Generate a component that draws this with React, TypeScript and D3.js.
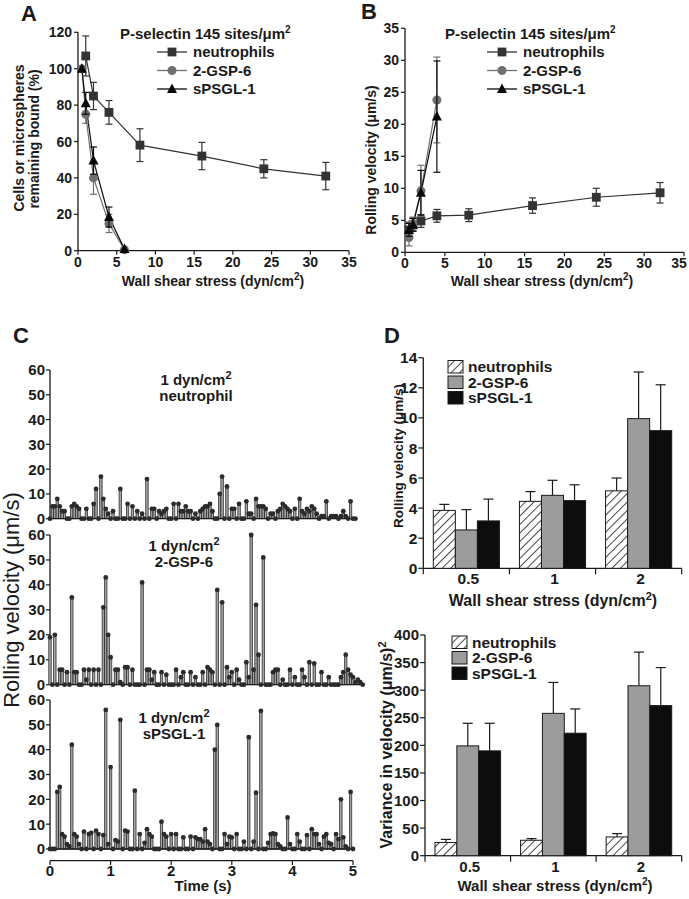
import React from 'react';
import * as d3 from 'd3';

const FONT = "'Liberation Sans', Arial, Helvetica, sans-serif";
const INK = '#1a1a1a';

// ---------- Panel A: cells / microspheres remaining bound (%)
const neuShear = [1, 2, 4, 8, 16, 24, 32];
const neuBound = [107, 85, 76, 58, 52, 45, 41];
const neuBoundErr = [11, 7.5, 6.5, 9, 7.5, 5, 7.5];
const beadShear = [0.5, 1, 2, 4, 6];
const gspBound = [100, 75, 40, 15, 0.5];
const gspBoundErr = [0, 5, 9, 5, 0];
const psglBound = [100, 81, 49.5, 18.5, 1];
const psglBoundErr = [0, 6, 7.5, 5.5, 0];

// ---------- Panel B: rolling velocity (um/s)
const neuShearB = [0.5, 1, 2, 4, 8, 16, 24, 32];
const neuVel = [3.5, 4.3, 4.9, 5.7, 5.8, 7.3, 8.6, 9.3];
const neuVelErr = [1.2, 1, 1, 1, 1, 1.2, 1.4, 1.6];
const beadShearB = [0.5, 1, 2, 4];
const gspVel = [2.3, 4.5, 9.6, 23.8];
const gspVelErr = [1.3, 1, 4, 6.7];
const psglVel = [3.5, 4.3, 9.3, 21.2];
const psglVelErr = [1, 1, 3.5, 8.7];

// ---------- Panel C: instantaneous velocity traces, one value per 0.04 s frame
const FRAME = 0.04;
const neutrophilTrace = [
  0, 5, 5, 8, 5, 3, 3, 0, 0, 5, 6, 5, 4, 0, 0, 4, 0, 0, 6, 12,
  0, 17, 8, 4, 2, 0, 3, 0, 0, 12, 0, 0, 6, 0, 5, 0, 3, 0, 2, 0,
  16, 0, 4, 4, 0, 3, 2, 3, 4, 0, 0, 6, 0, 6, 3, 3, 5, 3, 3, 0,
  2, 0, 3, 4, 5, 5, 6, 3, 0, 0, 10, 17, 0, 13, 0, 4, 4, 0, 6, 0,
  0, 7, 2, 2, 0, 8, 5, 5, 5, 4, 0, 2, 2, 0, 3, 4, 6, 5, 4, 3,
  0, 4, 0, 8, 3, 2, 4, 3, 5, 4, 2, 0, 1, 1, 7, 0, 1, 1, 1, 0,
  1, 3, 1, 0, 7, 0, 0,
];
const gspTrace = [
  19, 0, 20, 0, 6, 6, 0, 5, 0, 35, 5, 5, 0, 0, 6, 2, 6, 0, 6, 0,
  6, 0, 31, 43, 20, 11, 0, 6, 6, 1, 0, 7, 7, 0, 6, 0, 0, 0, 41, 0,
  6, 6, 2, 5, 0, 0, 5, 0, 4, 0, 0, 0, 6, 0, 3, 5, 0, 0, 5, 0,
  3, 0, 0, 5, 0, 7, 6, 5, 0, 38, 0, 33, 0, 7, 3, 5, 0, 6, 2, 0,
  0, 9, 3, 60, 6, 32, 12, 0, 51, 0, 0, 0, 5, 6, 6, 0, 2, 0, 0, 6,
  0, 3, 0, 0, 6, 3, 0, 9, 0, 8.5, 0, 0, 5, 0, 0, 3, 0, 0, 0, 0,
  3, 5, 12, 6, 4, 3, 1, 2, 1, 0,
];
const psglTrace = [
  0, 0, 0, 23, 25, 6, 5, 2, 1, 42, 6, 5, 2, 0, 7, 0, 6, 6.5, 0, 7.4,
  6, 0, 5.6, 56, 2, 33, 0, 3.6, 3, 52, 0, 7.4, 7, 0, 0, 23.5, 0, 6, 0, 2.5,
  8, 6, 5, 0, 0, 0, 11, 6, 5, 0, 6, 0, 6, 0, 0, 4.7, 0, 0, 5, 0,
  4.7, 4, 4, 3, 8, 3, 2, 0, 40, 50, 0, 0, 6, 2, 5, 4.7, 0, 6, 0, 0,
  3, 0, 45, 0, 3, 22.7, 0, 55.6, 0, 0, 2.5, 6, 6.3, 6, 2, 1, 0, 0, 12.7, 2,
  0, 0, 6, 3, 0, 0, 5.6, 0, 8, 6, 6, 2, 0, 5, 6, 2.5, 2, 0, 6, 4,
  20, 4.7, 1, 0, 23, 0,
];

// ---------- Panel D: mean rolling velocity and variance
const stressCats = ['0.5', '1', '2'];
const groupNames = ['neutrophils', '2-GSP-6', 'sPSGL-1'];
const neuMeanVel = [3.85, 4.45, 5.15];
const neuMeanVelErr = [0.4, 0.65, 0.85];
const gspMeanVel = [2.55, 4.85, 9.95];
const gspMeanVelErr = [1.35, 1.0, 3.1];
const psglMeanVel = [3.15, 4.5, 9.15];
const psglMeanVelErr = [1.45, 1.05, 3.05];
const neuVariance = [24, 28, 34];
const neuVarianceErr = [5.5, 3, 6];
const gspVariance = [199, 258, 308];
const gspVarianceErr = [41, 56, 61];
const psglVariance = [190, 222, 272];
const psglVarianceErr = [50, 44, 69];

const xTicks35 = [0, 5, 10, 15, 20, 25, 30, 35];

function Marker({ kind, x, y, fill }: { kind: string; x: number; y: number; fill: string }) {
  if (kind === 'square') return <rect x={x - 4.4} y={y - 4.4} width={8.8} height={8.8} fill={fill} />;
  if (kind === 'circle') return <circle cx={x} cy={y} r={4.5} fill={fill} />;
  const s = 5;
  return <path d={`M${x},${y - s * 1.1}L${x + s},${y + s * 0.8}L${x - s},${y + s * 0.8}Z`} fill={fill} />;
}

type Series = { name: string; xs: number[]; ys: number[]; errs: number[]; kind: string; color: string };

function LinePanel({ x0, x1, yBottom, yTop, yMax, yTicks, series, legendLineX, legendTitleX }: any) {
  const x = d3.scaleLinear().domain([0, 35]).range([x0, x1]);
  const y = d3.scaleLinear().domain([0, yMax]).range([yBottom, yTop]);
  const line = d3.line<number[]>().x(d => x(d[0])).y(d => y(d[1]));
  const rows = [52, 70.5, 89];
  return (
    <g>
      <line x1={x0} x2={x0} y1={yBottom} y2={yTop} stroke={INK} strokeWidth={1.3} />
      <line x1={x0} x2={x1} y1={yBottom} y2={yBottom} stroke={INK} strokeWidth={1.3} />
      {yTicks.map((t: number) => (
        <g key={t}>
          <line x1={x0 - 4} x2={x0} y1={y(t)} y2={y(t)} stroke={INK} strokeWidth={1.2} />
          <text x={x0 - 6} y={y(t)} dy="0.36em" textAnchor="end" fontSize={14} fontWeight="bold">{t}</text>
        </g>
      ))}
      {xTicks35.map(t => (
        <g key={t}>
          <line x1={x(t)} x2={x(t)} y1={yBottom} y2={yBottom + 4} stroke={INK} strokeWidth={1.2} />
          <text x={Math.min(x(t), 679)} y={yBottom + 16} textAnchor="middle" fontSize={14} fontWeight="bold">{t}</text>
        </g>
      ))}
      {series.map((s: Series) => (
        <path key={s.name + 'l'} d={line(s.xs.map((v, i) => [v, s.ys[i]])) || ''} fill="none" stroke={s.color} strokeWidth={1.2} />
      ))}
      {series.map((s: Series) => (
        <g key={s.name + 'e'}>
          {s.xs.map((v, i) => s.errs[i] > 0 && (
            <g key={i} stroke={s.color} strokeWidth={1.2}>
              <line x1={x(v)} x2={x(v)} y1={y(s.ys[i] - s.errs[i])} y2={y(s.ys[i] + s.errs[i])} />
              <line x1={x(v) - 3.5} x2={x(v) + 3.5} y1={y(s.ys[i] + s.errs[i])} y2={y(s.ys[i] + s.errs[i])} />
              <line x1={x(v) - 3.5} x2={x(v) + 3.5} y1={y(s.ys[i] - s.errs[i])} y2={y(s.ys[i] - s.errs[i])} />
            </g>
          ))}
          {s.xs.map((v, i) => <Marker key={i} kind={s.kind} x={x(v)} y={y(s.ys[i])} fill={s.color} />)}
        </g>
      ))}
      <text x={legendTitleX} y={39} fontSize={15} fontWeight="bold">
        P-selectin 145 sites/μm<tspan dy={-6} fontSize={10}>2</tspan>
      </text>
      {series.map((s: Series, i: number) => (
        <g key={s.name + 'g'}>
          <line x1={legendLineX} x2={legendLineX + 30} y1={rows[i]} y2={rows[i]} stroke={s.color} strokeWidth={1.3} />
          <Marker kind={s.kind} x={legendLineX + 15} y={rows[i]} fill={s.color} />
          <text x={legendLineX + 36} y={rows[i]} dy="0.36em" fontSize={15} fontWeight="bold">{s.name}</text>
        </g>
      ))}
    </g>
  );
}

function StemTrace({ values, yTop, yBottom, line2, labelX, labelY }: any) {
  const x = d3.scaleLinear().domain([0, 5]).range([50, 353]);
  const y = d3.scaleLinear().domain([0, 60]).range([yBottom, yTop]);
  const w = x(FRAME) - x(0);
  const pts = values.map((v: number, i: number) => ({ t: i * FRAME, v }));
  return (
    <g>
      <line x1={50} x2={50} y1={yBottom} y2={yTop} stroke={INK} strokeWidth={1.3} />
      {d3.range(0, 61, 10).map(t => (
        <g key={t}>
          <line x1={46} x2={50} y1={y(t)} y2={y(t)} stroke={INK} strokeWidth={1.2} />
          <text x={45} y={y(t)} dy="0.36em" textAnchor="end" fontSize={15} fontWeight="bold">{t}</text>
        </g>
      ))}
      {pts.filter((p: any) => p.v > 0).map((p: any, i: number) => (
        <rect key={'b' + i} x={x(p.t) - w / 2} y={y(p.v)} width={w} height={yBottom - y(p.v)}
          fill="#a0a0a0" stroke="#222" strokeWidth={0.7} />
      ))}
      <line x1={50} x2={x(pts[pts.length - 1].t) + 2} y1={yBottom} y2={yBottom} stroke={INK} strokeWidth={1.3} />
      {pts.map((p: any, i: number) => (
        <circle key={'d' + i} cx={x(p.t)} cy={y(p.v)} r={2.4} fill="#2b2b2b" />
      ))}
      <text x={labelX} y={labelY} textAnchor="middle" fontSize={15} fontWeight="bold">
        1 dyn/cm<tspan dy={-6} fontSize={11}>2</tspan>
      </text>
      <text x={labelX} y={labelY + 16} textAnchor="middle" fontSize={15} fontWeight="bold">{line2}</text>
    </g>
  );
}

function BarPanel({ xL, xR, yBottom, yTop, yMax, yStep, data, errs, catLabelY, legendX, legendTop, fontSize }: any) {
  const xb = d3.scaleBand().domain(stressCats).range([xL, xR]).paddingInner(0);
  const xi = d3.scaleBand().domain(groupNames).range([10, xb.bandwidth() - 10]);
  const y = d3.scaleLinear().domain([0, yMax]).range([yBottom, yTop]);
  const fills = ['url(#hatch)', '#9c9c9c', '#0d0d0d'];
  const bounds = [...stressCats.map(c => xb(c) as number), xR];
  return (
    <g>
      <line x1={xL} x2={xL} y1={yBottom} y2={yTop} stroke={INK} strokeWidth={1.3} />
      <line x1={xL} x2={xR} y1={yBottom} y2={yBottom} stroke={INK} strokeWidth={1.3} />
      {d3.range(0, yMax + 0.001, yStep).map(t => (
        <g key={t}>
          <line x1={xL - 5} x2={xL} y1={y(t)} y2={y(t)} stroke={INK} strokeWidth={1.2} />
          <text x={xL - 6} y={y(t)} dy="0.36em" textAnchor="end" fontSize={fontSize} fontWeight="bold">{t}</text>
        </g>
      ))}
      {bounds.map((b, i) => (
        <line key={i} x1={b} x2={b} y1={yBottom} y2={yBottom + 6} stroke={INK} strokeWidth={1.2} />
      ))}
      {stressCats.map(c => (
        <text key={c} x={(xb(c) as number) + xb.bandwidth() / 2 + 2} y={catLabelY} textAnchor="middle"
          fontSize={fontSize} fontWeight="bold">{c}</text>
      ))}
      {groupNames.map((g, gi) => stressCats.map((c, ci) => {
        const bx = (xb(c) as number) + (xi(g) as number);
        const bw = xi.bandwidth();
        const v = data[gi][ci];
        const top = y(v + errs[gi][ci]);
        return (
          <g key={g + c}>
            <line x1={bx + bw / 2} x2={bx + bw / 2} y1={y(v)} y2={top} stroke={INK} strokeWidth={1.2} />
            <line x1={bx + bw / 2 - 5} x2={bx + bw / 2 + 5} y1={top} y2={top} stroke={INK} strokeWidth={1.2} />
            <rect x={bx} y={y(v)} width={bw} height={yBottom - y(v)} fill={fills[gi]} stroke={INK} strokeWidth={1} />
          </g>
        );
      }))}
      {groupNames.map((g, gi) => (
        <g key={g}>
          <rect x={legendX} y={legendTop + gi * 15.5} width={15} height={12.5} fill={fills[gi]} stroke={INK} strokeWidth={1} />
          <text x={legendX + 20} y={legendTop + gi * 15.5 + 11.5} fontSize={15.5} fontWeight="bold">{g}</text>
        </g>
      ))}
    </g>
  );
}

export default function App() {
  const seriesA: Series[] = [
    { name: 'neutrophils', xs: neuShear, ys: neuBound, errs: neuBoundErr, kind: 'square', color: '#333333' },
    { name: '2-GSP-6', xs: beadShear, ys: gspBound, errs: gspBoundErr, kind: 'circle', color: '#707070' },
    { name: 'sPSGL-1', xs: beadShear, ys: psglBound, errs: psglBoundErr, kind: 'triangle', color: '#0a0a0a' },
  ];
  const seriesB: Series[] = [
    { name: 'neutrophils', xs: neuShearB, ys: neuVel, errs: neuVelErr, kind: 'square', color: '#333333' },
    { name: '2-GSP-6', xs: beadShearB, ys: gspVel, errs: gspVelErr, kind: 'circle', color: '#707070' },
    { name: 'sPSGL-1', xs: beadShearB, ys: psglVel, errs: psglVelErr, kind: 'triangle', color: '#0a0a0a' },
  ];
  const xC = d3.scaleLinear().domain([0, 5]).range([50, 353]);
  return (
    <svg width={689} height={899} style={{ position: 'absolute', left: 0, top: 0, background: '#fff' }}
      fontFamily={FONT} fill={INK}>
      <defs>
        <pattern id="hatch" width={6} height={6} patternUnits="userSpaceOnUse" patternTransform="rotate(45)">
          <rect width={6} height={6} fill="#fff" />
          <line x1={0} y1={0} x2={0} y2={6} stroke={INK} strokeWidth={1.6} />
        </pattern>
      </defs>
      <rect width={689} height={899} fill="#fff" />

      {/* A */}
      <text x={21} y={21} fontSize={22} fontWeight="bold">A</text>
      <LinePanel x0={78} x1={349} yBottom={250.7} yTop={32.3} yMax={120} yTicks={[0, 20, 40, 60, 80, 100, 120]}
        series={seriesA} legendLineX={157} legendTitleX={120} />
      <text transform="translate(23.5,138) rotate(-90)" textAnchor="middle" fontSize={14} fontWeight="bold">Cells or microspheres</text>
      <text transform="translate(38.5,139) rotate(-90)" textAnchor="middle" fontSize={14} fontWeight="bold">remaining bound (%)</text>
      <text x={213} y={286} textAnchor="middle" fontSize={14} fontWeight="bold">
        Wall shear stress (dyn/cm<tspan dy={-6} fontSize={10}>2</tspan><tspan dy={6}>)</tspan>
      </text>

      {/* B */}
      <text x={361} y={19} fontSize={22} fontWeight="bold">B</text>
      <LinePanel x0={405} x1={684} yBottom={252.3} yTop={28.3} yMax={35} yTicks={[0, 5, 10, 15, 20, 25, 30, 35]}
        series={seriesB} legendLineX={487} legendTitleX={445} />
      <text transform="translate(376,160) rotate(-90)" textAnchor="middle" fontSize={14} fontWeight="bold">Rolling velocity (μm/s)</text>
      <text x={542} y={286} textAnchor="middle" fontSize={14} fontWeight="bold">
        Wall shear stress (dyn/cm<tspan dy={-6} fontSize={10}>2</tspan><tspan dy={6}>)</tspan>
      </text>

      {/* C */}
      <text x={13} y={343} fontSize={22} fontWeight="bold">C</text>
      <StemTrace values={neutrophilTrace} yTop={370} yBottom={518.7} line2="neutrophil" labelX={196} labelY={385} />
      <StemTrace values={gspTrace} yTop={535} yBottom={684.7} line2="2-GSP-6" labelX={184} labelY={551} />
      <StemTrace values={psglTrace} yTop={700} yBottom={849} line2="sPSGL-1" labelX={174} labelY={723} />
      <line x1={50} x2={353} y1={860.7} y2={860.7} stroke={INK} strokeWidth={1.3} />
      {d3.range(0, 6).map(t => (
        <g key={t}>
          <line x1={xC(t)} x2={xC(t)} y1={860.7} y2={865} stroke={INK} strokeWidth={1.2} />
          <text x={xC(t)} y={876} textAnchor="middle" fontSize={15} fontWeight="bold">{t}</text>
        </g>
      ))}
      <text x={203} y={891} textAnchor="middle" fontSize={15} fontWeight="bold">Time (s)</text>
      <text transform="translate(19,600) rotate(-90)" textAnchor="middle" fontSize={22}>Rolling velocity (μm/s)</text>

      {/* D */}
      <text x={384} y={343} fontSize={22} fontWeight="bold">D</text>
      <BarPanel xL={423.3} xR={681.7} yBottom={568.3} yTop={357.7} yMax={14} yStep={2}
        data={[neuMeanVel, gspMeanVel, psglMeanVel]} errs={[neuMeanVelErr, gspMeanVelErr, psglMeanVelErr]}
        catLabelY={584} legendX={448} legendTop={360.5} fontSize={15.5} />
      <text transform="translate(403,456) rotate(-90)" textAnchor="middle" fontSize={13.5} fontWeight="bold">Rolling velocity (μm/s)</text>
      <text x={553} y={606} textAnchor="middle" fontSize={16} fontWeight="bold">
        Wall shear stress (dyn/cm<tspan dy={-6} fontSize={11}>2</tspan><tspan dy={6}>)</tspan>
      </text>
      <BarPanel xL={425} xR={681.7} yBottom={855.7} yTop={635} yMax={400} yStep={50}
        data={[neuVariance, gspVariance, psglVariance]} errs={[neuVarianceErr, gspVarianceErr, psglVarianceErr]}
        catLabelY={872} legendX={452} legendTop={636} fontSize={15} />
      <text transform="translate(392,745) rotate(-90)" textAnchor="middle" fontSize={16} fontWeight="bold">
        Variance in velocity (μm/s)<tspan dy={-6} fontSize={11}>2</tspan>
      </text>
      <text x={555} y={891} textAnchor="middle" fontSize={15} fontWeight="bold">
        Wall shear stress (dyn/cm<tspan dy={-6} fontSize={10}>2</tspan><tspan dy={6}>)</tspan>
      </text>
    </svg>
  );
}
